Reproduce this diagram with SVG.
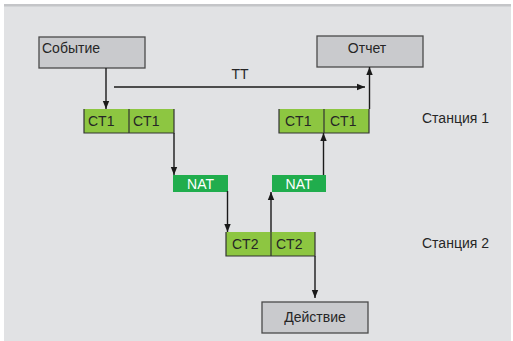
<svg xmlns="http://www.w3.org/2000/svg" width="513" height="341" viewBox="0 0 513 341">
<defs>
<style>
.t{font-family:"Liberation Sans",Arial,sans-serif;font-size:14px;fill:#262626}
.w{font-family:"Liberation Sans",Arial,sans-serif;font-size:14px;fill:#ffffff}
.gray{fill:#c9cacd;stroke:#4a4a4a;stroke-width:1.3}
.lg{fill:#8dc641}
.dg{fill:#20ad4d}
.edge{fill:none;stroke:#333;stroke-width:1.2}
.c{fill:none;stroke:#1a1a1a;stroke-width:1.4}
</style>
<marker id="ah" viewBox="0 0 10 10" refX="10" refY="5" markerWidth="8" markerHeight="8" markerUnits="userSpaceOnUse" orient="auto">
<path d="M0,1 L10,5 L0,9 Z" fill="#1a1a1a"/>
</marker>
</defs>
<rect x="0" y="0" width="513" height="341" fill="#ffffff"/>
<rect x="4" y="4" width="507" height="337" fill="#e1e2e4"/>
<rect x="4" y="4" width="507" height="2.5" fill="#c4c5c8"/>

<g id="event"><rect class="gray" x="39" y="37" width="106" height="31"/><text class="t" x="42" y="53">Событие</text></g>
<g id="report"><rect class="gray" x="317" y="36" width="106" height="31"/><text class="t" x="367" y="53" text-anchor="middle">Отчет</text></g>
<g id="action"><rect class="gray" x="262" y="302" width="106" height="31"/><text class="t" x="315" y="322" text-anchor="middle">Действие</text></g>

<g id="ct1-left"><rect class="lg" x="84" y="109" width="90" height="24"/><path class="edge" d="M84,109 V133 H174 V109 M129,109 V133"/><text class="t" x="88" y="126">CT1</text><text class="t" x="133" y="126">CT1</text></g>
<g id="ct1-right"><rect class="lg" x="279" y="109" width="90" height="24"/><path class="edge" d="M279,109 V133 H369 V109 M324,109 V133"/><text class="t" x="285" y="126">CT1</text><text class="t" x="330" y="126">CT1</text></g>
<g id="ct2"><rect class="lg" x="226" y="232" width="89" height="24"/><path class="edge" d="M226,232 V256 H315 V232 M271,232 V256"/><text class="t" x="232" y="249">CT2</text><text class="t" x="276" y="249">CT2</text></g>
<g id="nat-left"><rect class="dg" x="173" y="175" width="55" height="17"/><text class="w" x="200.5" y="189" text-anchor="middle">NAT</text></g>
<g id="nat-right"><rect class="dg" x="272" y="175" width="54" height="17"/><text class="w" x="299" y="189" text-anchor="middle">NAT</text></g>

<g id="station1"><text class="t" x="422" y="123">Станция 1</text></g>
<g id="station2"><text class="t" x="422" y="248">Станция 2</text></g>

<g id="connectors">
<path class="c" d="M106,68 V109" marker-end="url(#ah)"/>
<path class="c" d="M114,87 H365" marker-end="url(#ah)"/>
<text class="t" x="240" y="79" text-anchor="middle">TT</text>
<path class="c" d="M174,133 V175" marker-end="url(#ah)"/>
<path class="c" d="M227.5,191 V232" marker-end="url(#ah)"/>
<path class="c" d="M271,232 V192" marker-end="url(#ah)"/>
<path class="c" d="M323.5,175 V133" marker-end="url(#ah)"/>
<path class="c" d="M369.5,109 V67" marker-end="url(#ah)"/>
<path class="c" d="M315,256 V298" marker-end="url(#ah)"/>
</g>
</svg>
